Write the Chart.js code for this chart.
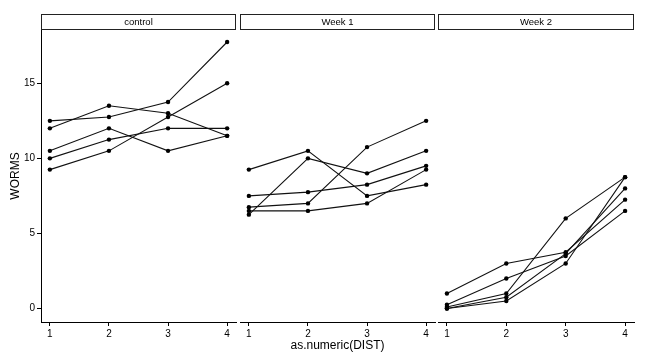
<!DOCTYPE html>
<html>
<head>
<meta charset="utf-8">
<script src="https://cdn.jsdelivr.net/npm/chart.js@4.4.1/dist/chart.umd.min.js"></script>
<style>
	body { margin: 0; background: #fff; }
	#wrap { position: relative; width: 648px; height: 360px; }
	#wrap canvas { position: absolute; left: 0; top: 0; }
</style>
</head>
<body>
<div id="wrap">
	<canvas id="p0" width="648" height="360"></canvas>
	<canvas id="p1" width="648" height="360"></canvas>
	<canvas id="p2" width="648" height="360"></canvas>
</div>
<script>
	'use strict';

	// Data (WORMS by DIST, one line per plot)
	const dist = [1, 2, 3, 4];
	const panels = ['control', 'Week 1', 'Week 2'];
	const yTicks = [0, 5, 10, 15];

	const control = [
		[12.5, 12.75, 13.75, 17.75],
		[12.0, 13.5, 13.0, 11.5],
		[10.5, 12.0, 10.5, 11.5],
		[10.0, 11.25, 12.0, 12.0],
		[9.25, 10.5, 12.75, 15.0]
	];
	const week1 = [
		[9.25, 10.5, 7.5, 8.25],
		[6.25, 10.0, 9.0, 10.5],
		[7.5, 7.75, 8.25, 9.5],
		[6.75, 7.0, 10.75, 12.5],
		[6.5, 6.5, 7.0, 9.25]
	];
	const week2 = [
		[1.0, 3.0, 3.75, 7.25],
		[0.25, 2.0, 3.5, 6.5],
		[0.1, 1.0, 6.0, 8.75],
		[0.0, 0.5, 3.0, 8.75],
		[0.0, 0.75, 3.65, 8.0]
	];
	const panelData = [control, week1, week2];

	// panel chart areas (left, right) in px
	const panelBox = [[41, 236], [240, 435], [438, 634]];
	const fontFam = '"Liberation Sans", Arial, Helvetica, sans-serif';

	// strip label above each panel
	const stripPlugin = {
		id: 'strip',
		afterDraw: function( chart, args, opts ) {
			let ctx = chart.ctx;
			let area = chart.chartArea;
			ctx.save();
			ctx.fillStyle = '#fff';
			ctx.strokeStyle = '#222';
			ctx.lineWidth = 1;
			ctx.fillRect( area.left, 14, area.right - area.left, 15 );
			ctx.strokeRect( area.left + 0.5, 14.5, area.right - area.left - 1, 15 );
			ctx.fillStyle = '#000';
			ctx.font = '9.5px ' + fontFam;
			ctx.textAlign = 'center';
			ctx.textBaseline = 'middle';
			ctx.fillText( opts.label, ( area.left + area.right ) / 2, 22 );
			ctx.restore();
		}
	};

	function makePanel( index ) {
		let ctx = document.getElementById( 'p' + index );
		let box = panelBox[index];
		let series = panelData[index];

		let datasets = series.map( function( s ) {
			return {
				data: dist.map( function( d, i ) { return { x: d, y: s[i] }; } ),
				borderColor: '#111',
				backgroundColor: '#000',
				borderWidth: 1.1,
				pointRadius: 2.2,
				pointBorderWidth: 0,
				showLine: true,
				fill: false,
			};
		});

		new Chart( ctx, {
			type: 'scatter',
			data: { datasets: datasets },
			plugins: [ stripPlugin ],
			options: {
				responsive: false,
				animation: false,
				devicePixelRatio: 1,
				layout: {
					// y scale is always 41px wide, only panel 0 shows it
					padding: { left: box[0] - 41, right: 648 - box[1], top: 30, bottom: 0 }
				},
				plugins: {
					legend: { display: false },
					tooltip: { enabled: false },
					strip: { label: panels[index] }
				},
				scales: {
					x: {
						type: 'linear',
						min: 0.85,
						max: 4.15,
						afterBuildTicks: function( scale ) {
							scale.ticks = dist.map( function( v ) { return { value: v }; } );
						},
						afterFit: function( scale ) { scale.height = 38; },
						grid: { display: true, drawOnChartArea: false, tickLength: 4, color: '#000', tickColor: '#000' },
						border: { display: true, color: '#000', width: 1 },
						ticks: { color: '#000', padding: 2, maxRotation: 0, font: { size: 10, family: fontFam } },
						title: {
							display: index === 1,
							text: 'as.numeric(DIST)',
							color: '#000',
							font: { size: 12, family: fontFam },
							padding: { top: 0, bottom: 7 }
						}
					},
					y: {
						display: index === 0,
						min: -0.9,
						max: 18.55,
						afterBuildTicks: function( scale ) {
							scale.ticks = yTicks.map( function( v ) { return { value: v }; } );
						},
						afterFit: function( scale ) { scale.width = 41; },
						grid: { display: true, drawOnChartArea: false, tickLength: 4, color: '#000', tickColor: '#000' },
						border: { display: true, color: '#000', width: 1 },
						ticks: { color: '#000', padding: 2, font: { size: 10, family: fontFam } },
						title: {
							display: true,
							text: 'WORMS',
							color: '#000',
							font: { size: 12, family: fontFam },
							padding: { top: 8, bottom: 0 }
						}
					}
				}
			}
		});
	}

	panels.forEach( function( p, i ) { makePanel( i ); } );
</script>
</body>
</html>
